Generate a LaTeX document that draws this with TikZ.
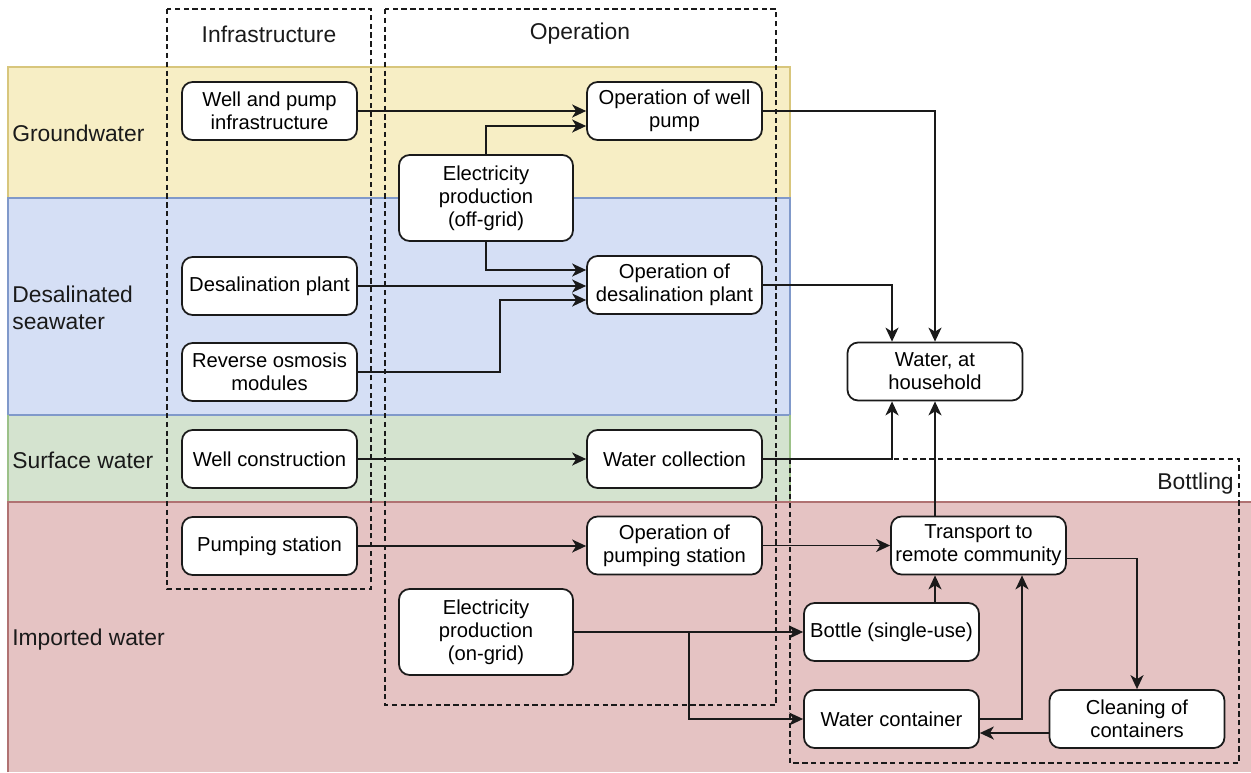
\documentclass[tikz,border=0pt]{standalone}
\usepackage{fontspec}
\setsansfont{Liberation Sans}
\usepackage{tikz}
\usetikzlibrary{arrows.meta, positioning, backgrounds, calc}
\pgfdeclarelayer{arrows}
\pgfsetlayers{background,arrows,main}
\definecolor{groundbg}{HTML}{F7EEC5}
\definecolor{groundln}{HTML}{D8C67C}
\definecolor{desalbg}{HTML}{D5DFF5}
\definecolor{desalln}{HTML}{8099CA}
\definecolor{surfbg}{HTML}{D4E3CF}
\definecolor{surfln}{HTML}{9CC188}
\definecolor{importbg}{HTML}{E5C3C3}
\definecolor{importln}{HTML}{B07272}
\definecolor{inkgray}{HTML}{1A1A1A}
\tikzset{
  proc/.style={rectangle, rounded corners=6pt, draw=inkgray, line width=1pt, fill=white,
    font=\sffamily\fontsize{11.5}{13}\selectfont, minimum width=3.5cm, minimum height=1.16cm,
    align=center, inner sep=2pt},
  proc/tall/.style={rectangle, rounded corners=6pt, draw=inkgray, line width=1pt, fill=white,
    font=\sffamily\fontsize{11.5}{13}\selectfont, minimum width=3.48cm, minimum height=1.72cm,
    align=center, inner sep=2pt},
  lane/.style={line width=0.7pt},
  lanelbl/.style={font=\sffamily\fontsize{13}{15.5}\selectfont, text=inkgray, anchor=west, align=left, inner sep=0pt},
  grp/.style={draw=inkgray, line width=0.8pt, dash pattern=on 3pt off 2pt},
  grplbl/.style={font=\sffamily\fontsize{13}{15.5}\selectfont, text=inkgray, inner sep=0pt},
  ar/.style={-{Stealth[length=2.8mm, width=2.6mm, inset=0.8mm]}, draw=inkgray, line width=1pt},
}

\begin{document}
\begin{tikzpicture}[x=0.02cm, y=-0.02cm, every node/.style={font=\sffamily}]
\useasboundingbox (0,0) rectangle (1251,772);

% infrastructure column
\node[proc] (WellInf) at (269.5,111) {Well and pump\\infrastructure};
\node[proc] (DesalPl) at (269.5,286) {Desalination plant};
\node[proc] (ROMod)   at (269.5,372) {Reverse osmosis\\modules};
\node[proc] (WellCon) at (269.5,459) {Well construction};
\node[proc] (PumpSt)  at (269.5,546) {Pumping station};

% operation column
\node[proc]      (OpWell)   at (674.5,111) {Operation of well\\pump};
\node[proc/tall] (ElecOff)  at (486,198)   {Electricity\\production\\(off-grid)};
\node[proc]      (OpDesal)  at (674.5,285) {Operation of\\desalination plant};
\node[proc]      (WaterCol) at (674.5,459) {Water collection};
\node[proc]      (OpPump)   at (674.5,545.5) {Operation of\\pumping station};
\node[proc/tall] (ElecOn)   at (486,632)   {Electricity\\production\\(on-grid)};

% household and bottling
\node[proc] (House)   at (935,371.5)  {Water, at\\household};
\node[proc] (Transp)  at (978.5,545.5) {Transport to\\remote community};
\node[proc] (Bottle)  at (891.5,632)  {Bottle (single-use)};
\node[proc] (Contain) at (891.5,719)  {Water container};
\node[proc] (Clean)   at (1137,719)   {Cleaning of\\containers};

\begin{scope}[on background layer]
  \fill[groundbg] (8,67) rectangle (790,198);
  \fill[desalbg] (8,198) rectangle (790,415);
  \fill[surfbg] (8,415) rectangle (790,502);
  \fill[importbg] (8,502) rectangle (1251,772);
  \draw[lane, groundln] (8,198) -- (8,67) -- (790,67) -- (790,198);
  \draw[lane, desalln] (8,198) -- (8,415) -- (790,415) -- (790,198) -- cycle;
  \draw[lane, surfln] (8,415) -- (8,502) -- (790,502) -- (790,415);
  \draw[lane, importln] (8,772) -- (8,502) -- (1251,502);
  \node[lanelbl] (LGround) at (12,133) {Groundwater};
  \node[lanelbl] (LDesal)  at (12,308) {Desalinated\\seawater};
  \node[lanelbl] (LSurf)   at (12,460) {Surface water};
  \node[lanelbl] (LImport) at (12,640) {Imported water};
  \draw[grp] (167,9) rectangle (371,589);
  \draw[grp] (385,9) rectangle (776,705);
  \draw[grp] (790,459) rectangle (1239,763);
  \node[grplbl] (GInf) at (269,34) {Infrastructure};
  \node[grplbl] (GOp)  at (580,34) {Operation};
  \node[grplbl, anchor=east] (GBot) at (1234,484) {Bottling};
\end{scope}

\begin{pgfonlayer}{arrows}
\coordinate (ROBend) at (500,372);
\coordinate (Split) at (689,632);

\draw[ar] (WellInf.east) -- (OpWell.west);
\draw[ar] (ElecOff.north) |- ([yshift=-0.3cm]OpWell.west);
\draw[ar] (ElecOff.south) |- ([yshift=0.3cm]OpDesal.west);
\draw[ar] (DesalPl.east) -- (DesalPl.east -| OpDesal.west);
\draw[ar] (ROMod.east) -- (ROBend) |- ([yshift=-0.3cm]OpDesal.west);
\draw[ar] (WellCon.east) -- (WaterCol.west);
\draw[ar] (PumpSt.east) -- (PumpSt.east -| OpPump.west);

\draw[ar] (OpWell.east) -| (House.north);
\draw[ar] (OpDesal.east) -| ([xshift=-0.86cm]House.north);
\draw[ar] (WaterCol.east) -| ([xshift=-0.86cm]House.south);
\draw[ar] (House.south |- Transp.north) -- (House.south);

\draw[ar] (OpPump.east) -- (Transp.west);
\draw[ar] (ElecOn.east) -- (Bottle.west);
\draw[ar] (Split) |- (Contain.west);
\draw[ar] (Bottle.north -| House.south) -- (Transp.south -| House.south);
\draw[ar] (Contain.east) -| ([xshift=0.87cm]Transp.south);
\draw[ar] ([yshift=-0.26cm]Transp.east) -| (Clean.north);
\draw[ar] ([yshift=-0.28cm]Clean.west) -- ([yshift=-0.28cm]Contain.east);
\end{pgfonlayer}

\end{tikzpicture}
\end{document}
